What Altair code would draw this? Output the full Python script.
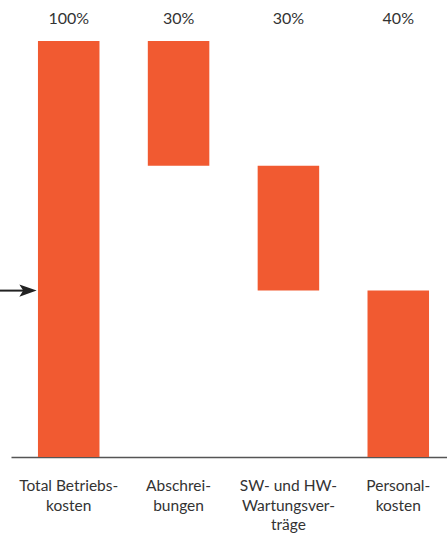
import altair as alt
import pandas as pd

categories = ["Total Betriebs-\nkosten", "Abschrei-\nbungen", "SW- und HW-\nWartungsver-\nträge", "Personal-\nkosten"]
bar_start = [0, 70, 40, 0]
bar_end = [100, 100, 70, 40]
share_labels = ["100%", "30%", "30%", "40%"]
arrow_level = [40]

df = pd.DataFrame({"cat": categories, "start": bar_start, "end": bar_end, "share": share_labels})
arrow_df = pd.DataFrame({"level": arrow_level})

ORANGE = "#F15A31"
TEXT = "#333333"
FONT = "Lato"

xscale = alt.Scale(domain=categories, paddingInner=0.44, paddingOuter=0.2045, align=0.6)
yscale = alt.Scale(domain=[0, 100], nice=False, zero=True)

xenc = alt.X("cat:N", scale=xscale, sort=categories,
             axis=alt.Axis(title=None, labels=False, ticks=False, domain=True,
                           domainColor="#555555", domainWidth=1.5))

bars = alt.Chart(df).mark_bar(color=ORANGE).encode(
    x=xenc,
    y=alt.Y("start:Q", scale=yscale, axis=None),
    y2="end:Q",
)

tops = alt.Chart(df).mark_text(font=FONT, fontSize=16, color=TEXT, baseline="middle").encode(
    x=alt.X("cat:N", scale=xscale, sort=categories),
    y=alt.value(-22),
    text="share:N",
)

cats = alt.Chart(df).mark_text(font=FONT, fontSize=15.5, color=TEXT, baseline="top",
                               lineBreak="\n", lineHeight=19.5).encode(
    x=alt.X("cat:N", scale=xscale, sort=categories),
    y=alt.value(438),
    text="cat:N",
)

arrow_line = alt.Chart(arrow_df).mark_rule(color="#222222", strokeWidth=2).encode(
    x=alt.value(-11),
    x2=alt.value(18),
    y=alt.Y("level:Q", scale=yscale),
)

arrow_head = alt.Chart(arrow_df).mark_point(
    shape="M -1 -0.7 L 1 0 L -1 0.7 L -0.55 0 Z", filled=True, color="#222222",
    opacity=1, size=300,
).encode(
    x=alt.value(17),
    y=alt.Y("level:Q", scale=yscale),
)

chart = alt.layer(bars, tops, cats, arrow_line, arrow_head).properties(
    width=436, height=416,
    padding={"left": 11, "top": 41, "right": 0, "bottom": 76},
    autosize=alt.AutoSizeParams(type="none"),
).configure_view(stroke=None)

chart.save("out.html", embed_options={"renderer": "svg", "actions": False})
